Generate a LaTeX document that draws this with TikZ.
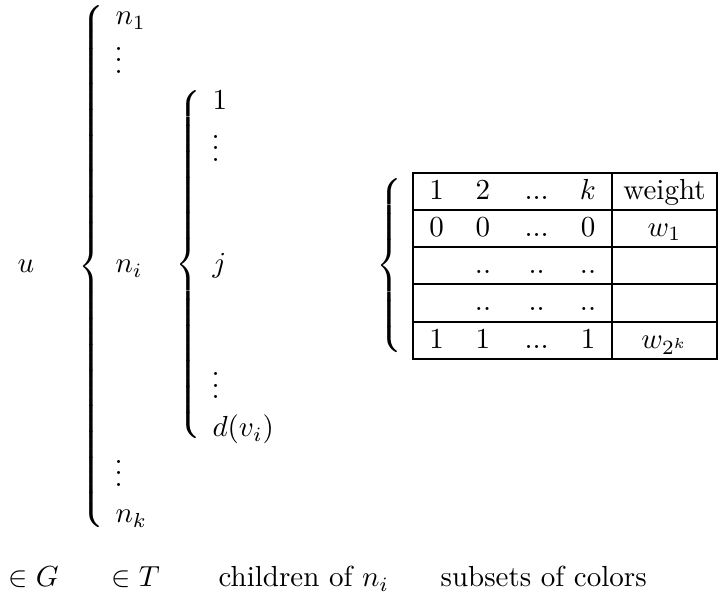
\documentclass[tikz,border=0pt]{standalone}
\newcommand{\mybrace}[1]{{\delimitershortfall=0pt\delimiterfactor=1000$\left\{\vcenter{\hrule height #1 width 0pt}\right.$}}
\begin{document}
\begin{tikzpicture}[x=0.3448pt,y=-0.3448pt,
  txt/.style={anchor=base west,inner sep=0pt},
  cell/.style={anchor=base,inner sep=0pt},
  bracenode/.style={anchor=west,inner sep=0pt},
  tabrule/.style={line width=0.6pt}]
\useasboundingbox (0,0) rectangle (719,595);
% first column
\node[txt] (u) at (17,273) {$u$};
\node[bracenode] (B1) at (78,266.5) {\mybrace{176.5pt}};
% second column
\node[txt] (n1) at (115,25) {$n_1$};
\node[txt] (vd1) at (114,73.5) {$\vdots$};
\node[txt] (ni) at (115,273) {$n_i$};
\node[txt] (vd4) at (114,486.5) {$\vdots$};
\node[txt] (nk) at (115,523) {$n_k$};
% inner brace
\node[bracenode] (B2) at (175,265) {\mybrace{118.5pt}};
\node[txt] (one) at (212,110) {$1$};
\node[txt] (vd2) at (211,161.5) {$\vdots$};
\node[txt] (j) at (212,273) {$j$};
\node[txt] (vd3) at (211,399) {$\vdots$};
\node[txt] (dv) at (212,437) {$d(v_i)$};
% table brace
\node[bracenode] (B3) at (376,266) {\mybrace{59.3pt}};
% table
\coordinate (TL) at (413,173);
\coordinate (BR) at (717,359);
\draw[tabrule] (TL) rectangle (BR);
\draw[tabrule] (612,173) -- (612,359);
\foreach \yy in {210,247,284,322} \draw[tabrule] (413,\yy) -- (717,\yy);
% row 1
\node[cell] (h1) at (436.7,199.5) {1};
\node[cell] (h2) at (483,199.5) {2};
\node[cell] (h3) at (536.7,199.5) {...};
\node[cell] (h4) at (588,199.5) {$k$};
\node[cell] (h5) at (664.5,199.5) {weight};
% row 2
\node[cell] (a1) at (436.7,236.5) {0};
\node[cell] (a2) at (483,236.5) {0};
\node[cell] (a3) at (536.7,236.5) {...};
\node[cell] (a4) at (588,236.5) {0};
\node[cell] (a5) at (664.5,236.5) {$w_1$};
% row 3
\node[cell] (b2) at (483,273.5) {..};
\node[cell] (b3) at (536.7,273.5) {..};
\node[cell] (b4) at (588,273.5) {..};
% row 4
\node[cell] (c2) at (483,311) {..};
\node[cell] (c3) at (536.7,311) {..};
\node[cell] (c4) at (588,311) {..};
% row 5
\node[cell] (d1) at (436.7,348.5) {1};
\node[cell] (d2) at (483,348.5) {1};
\node[cell] (d3) at (536.7,348.5) {...};
\node[cell] (d4) at (588,348.5) {1};
\node[cell] (d5) at (664.5,348.5) {$w_{2^k}$};
% bottom labels
\node[txt] (lG) at (8,587) {$\in G$};
\node[txt] (lT) at (111,587) {$\in T$};
\node[txt] (lch) at (218,587) {children of $n_i$};
\node[txt] (lsub) at (440,587) {subsets of colors};
\end{tikzpicture}
\end{document}
